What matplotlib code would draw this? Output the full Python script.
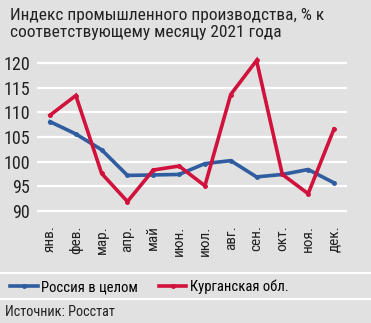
import matplotlib
matplotlib.use("Agg")
import matplotlib.pyplot as plt
from matplotlib.lines import Line2D

# data
months = ["янв.", "фев.", "мар.", "апр.", "май", "июн.",
          "июл.", "авг.", "сен.", "окт.", "ноя.", "дек."]
russia = [108.1, 105.6, 102.4, 97.2, 97.3, 97.4, 99.6, 100.2, 96.9, 97.4, 98.4, 95.7]
kurgan = [109.4, 113.4, 97.6, 91.9, 98.3, 99.1, 95.1, 113.6, 120.5, 97.4, 93.5, 106.6]
yticks = [90, 95, 100, 105, 110, 115, 120]

bg = "#e1e1e1"
blue = "#2f5d9f"
red = "#d0123c"

plt.rcParams["font.family"] = ["Roboto Condensed", "DejaVu Sans"]

fig = plt.figure(figsize=(3.71, 3.23), dpi=100, facecolor=bg)
ax = fig.add_axes([0.1, 0.324, 0.835, 0.504], facecolor=bg)

x = range(len(months))
ax.plot(x, russia, color=blue, lw=2.6, marker="o", ms=2.5, solid_joinstyle="miter")
ax.plot(x, kurgan, color=red, lw=2.6, marker="o", ms=2.5, solid_joinstyle="miter")

ax.set_xlim(-0.5, 11.5)
ax.set_ylim(88.5, 121.5)
ax.set_yticks(yticks)
ax.set_xticks(list(x))
ax.set_xticklabels(months, rotation=90, fontsize=11, color="#222222")
ax.tick_params(axis="y", labelsize=13, labelcolor="#222222", length=0, pad=5)
ax.tick_params(axis="x", length=0, pad=5)
ax.yaxis.grid(True, color="white", lw=1.6)
ax.set_axisbelow(True)
for s in ax.spines.values():
    s.set_visible(False)

fig.text(0.027, 0.975, "Индекс промышленного производства, % к\nсоответствующему месяцу 2021 года",
         ha="left", va="top", fontsize=12.5, color="#222222", linespacing=1.15)

# separators
fig.add_artist(Line2D([0, 1], [1 - 272.5 / 323] * 2, color="white", lw=1.5))
fig.add_artist(Line2D([0, 1], [1 - 298.5 / 323] * 2, color="white", lw=1.5))

handles = [Line2D([], [], color=blue, lw=2.6, marker="o", ms=2.5),
           Line2D([], [], color=red, lw=2.6, marker="o", ms=2.5)]
fig.legend(handles, ["Россия в целом", "Курганская обл."], ncol=2, frameon=False,
           loc="center left", bbox_to_anchor=(0.027, 1 - 287 / 323), fontsize=10.5,
           borderpad=0, borderaxespad=0, handlelength=1.9, handletextpad=0.25,
           columnspacing=1.4)

fig.text(0.013, 1 - 312 / 323, "Источник: Росстат", ha="left", va="center",
         fontsize=10.3, color="#222222")

fig.savefig("out.png", dpi=100, facecolor=bg)
